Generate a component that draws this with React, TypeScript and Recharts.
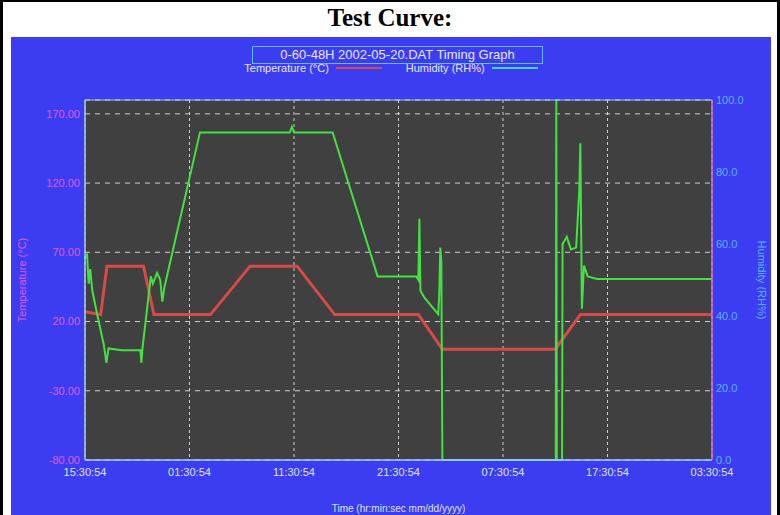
import React from 'react';
import { LineChart, Line, XAxis, YAxis, CartesianGrid } from 'recharts';

// ---- data ----
const xTicks = [0, 10, 20, 30, 40, 50, 60];
const xTickLabels = ['15:30:54', '01:30:54', '11:30:54', '21:30:54', '07:30:54', '17:30:54', '03:30:54'];
const tempTicks = [-80, -30, 20, 70, 120, 170];
const humTicks = [0, 20, 40, 60, 80, 100];
const xMinorTicks = [0,1,2,3,4,5,6,7,8,9,10,11,12,13,14,15,16,17,18,19,20,21,22,23,24,25,26,27,28,29,30,31,32,33,34,35,36,37,38,39,40,41,42,43,44,45,46,47,48,49,50,51,52,53,54,55,56,57,58,59,60];
const tempMinorTicks = [-70,-60,-50,-40,-30,-20,-10,0,10,20,30,40,50,60,70,80,90,100,110,120,130,140,150,160,170];
const humMinorTicks = [5,10,15,20,25,30,35,40,45,50,55,60,65,70,75,80,85,90,95];

const tempHours = [0, 1.5, 2.1, 5.6, 6.6, 12.0, 15.8, 20.3, 23.9, 31.9, 34.2, 45.0, 47.4, 60];
const tempValues = [27, 25, 60, 60, 25, 25, 60, 60, 25, 25, 0, 0, 25, 25];

const humHours = [0.0, 0.2, 0.35, 0.5, 0.7, 1.2, 1.8, 2.05, 2.25, 3.5, 5.3, 5.4, 5.5, 6.3, 6.5, 6.9, 7.2, 7.4, 7.6, 11.0, 14.0, 19.6, 19.8, 20.0, 23.7, 28.0, 31.7, 31.9, 32.0, 32.1, 32.5, 33.8, 33.9, 34.0, 34.1, 34.2, 45.05, 45.1, 45.15, 45.65, 45.7, 46.1, 46.5, 47.0, 47.3, 47.4, 47.55, 47.75, 48.1, 49.0, 60];
const humValues = [56, 57, 49, 53, 47, 40, 32, 27, 31, 30.5, 30.5, 27, 31, 51, 49, 52, 50, 44, 48, 91, 91, 91, 92.5, 91, 91, 51, 51, 50, 67, 47, 45, 40.5, 46, 59, 55, 0, 0, 100, 0, 0, 60, 62, 58.5, 59, 75, 88, 42, 54, 51, 50.3, 50.3];

const tempData = tempHours.map((h, i) => ({ h, t: tempValues[i] }));
const humData = humHours.map((h, i) => ({ h, rh: humValues[i] }));

const FONT = '"Liberation Sans", Arial, sans-serif';
const BLUE = '#3c3cf0';
const MAGENTA = '#e058e0';
const LIGHTBLUE = '#58b4ff';

const NoLabel = () => <g />;

const LeftTitle = (props: any) => {
  const vb = props.viewBox || { x: 0, y: 0, width: 0, height: 0 };
  const x = vb.x - 3;
  const y = vb.y + vb.height / 2;
  return (
    <text x={x} y={y} transform={`rotate(-90, ${x}, ${y})`} textAnchor="middle" dominantBaseline="central" fill={MAGENTA} fontSize={11} fontFamily={FONT}>
      Temperature (°C)
    </text>
  );
};

const RightTitle = (props: any) => {
  const vb = props.viewBox || { x: 0, y: 0, width: 0, height: 0 };
  const x = vb.x + 50;
  const y = vb.y + vb.height / 2;
  return (
    <text x={x} y={y} transform={`rotate(90, ${x}, ${y})`} textAnchor="middle" dominantBaseline="central" fill={LIGHTBLUE} fontSize={11} fontFamily={FONT}>
      Humidity (RH%)
    </text>
  );
};

export default function App() {
  return (
    <div style={{ position: 'fixed', left: 0, top: 0, width: 780, height: 515, background: '#fff', overflow: 'hidden' }}>
      <div style={{ position: 'absolute', left: 0, top: 0, width: 780, height: 515, boxSizing: 'border-box', borderLeft: '3px solid #000', borderTop: '2px solid #000', borderRight: '3px solid #000' }} />
      <div style={{ position: 'absolute', left: 0, top: 3, width: 780, textAlign: 'center', fontFamily: '"Liberation Serif", "Times New Roman", serif', fontWeight: 'bold', fontSize: 25, lineHeight: '30px', color: '#000' }}>
        Test Curve:
      </div>
      <div style={{ position: 'absolute', left: 11, top: 37, width: 760, height: 478, background: BLUE }}>
        <div style={{ position: 'absolute', left: 241, top: 9, width: 291, height: 18, boxSizing: 'border-box', border: '1px solid #6ab8ff', color: '#e6e8ff', fontFamily: FONT, fontSize: 13, lineHeight: '16px', textAlign: 'center', whiteSpace: 'nowrap' }}>
          0-60-48H 2002-05-20.DAT Timing Graph
        </div>
        <div style={{ position: 'absolute', left: 0, top: 24, width: 760, height: 14, display: 'flex', justifyContent: 'center', alignItems: 'center', fontFamily: FONT, fontSize: 11, color: '#e6e8ff', whiteSpace: 'nowrap' }}>
          <span>Temperature (°C)</span>
          <span style={{ display: 'inline-block', width: 46, height: 2, background: '#e04848', margin: '0 24px 0 7px' }} />
          <span>Humidity (RH%)</span>
          <span style={{ display: 'inline-block', width: 46, height: 2, background: '#40d8c8', marginLeft: 7 }} />
        </div>
        <LineChart width={760} height={478} margin={{ top: 63, right: 9, bottom: 3, left: 14 }}>
          <CartesianGrid xAxisId="x" yAxisId="t" fill="#404040" vertical={false} horizontal={true} stroke="#e8e8e8" strokeDasharray="5 5" strokeOpacity={0.85} />
          <CartesianGrid xAxisId="x" yAxisId="t" vertical={true} horizontal={false} stroke="#e8e8e8" strokeDasharray="3 3" strokeOpacity={0.85} />
          <XAxis xAxisId="xminor" orientation="bottom" type="number" dataKey="h" domain={[0, 60]} ticks={xMinorTicks} interval={0} mirror height={1} tick={NoLabel} axisLine={false} tickSize={4} tickLine={{ stroke: '#dddddd' }} />
          <XAxis xAxisId="xtop" orientation="top" type="number" dataKey="h" domain={[0, 60]} ticks={xMinorTicks} interval={0} mirror height={1} tick={NoLabel} axisLine={{ stroke: '#9cc8ff' }} tickSize={4} tickLine={{ stroke: '#dddddd' }} />
          <XAxis
            xAxisId="x"
            type="number"
            dataKey="h"
            domain={[0, 60]}
            ticks={xTicks}
            interval={0}
            height={52}
            tickLine={false}
            tickSize={0}
            tickMargin={8}
            axisLine={{ stroke: '#9cc8ff', strokeWidth: 1.5 }}
            tick={{ fill: '#dde3ff', fontSize: 11, fontFamily: FONT }}
            tickFormatter={(v: number) => xTickLabels[xTicks.indexOf(v)] ?? ''}
            label={{ value: 'Time (hr:min:sec mm/dd/yyyy)', position: 'insideBottom', offset: 0, fill: '#dde3ff', fontSize: 10, fontFamily: FONT }}
          />
          <YAxis yAxisId="tminor" orientation="left" domain={[-80, 180]} ticks={tempMinorTicks} interval={0} mirror width={1} tick={NoLabel} axisLine={false} tickSize={4} tickLine={{ stroke: '#dddddd' }} />
          <YAxis yAxisId="hminor" orientation="right" domain={[0, 100]} ticks={humMinorTicks} interval={0} mirror width={1} tick={NoLabel} axisLine={false} tickSize={4} tickLine={{ stroke: '#dddddd' }} />
          <YAxis
            yAxisId="t"
            orientation="left"
            domain={[-80, 180]}
            ticks={tempTicks}
            interval={0}
            width={60}
            tickLine={false}
            tickSize={3}
            tickMargin={2}
            axisLine={{ stroke: '#9cc8ff', strokeWidth: 1.5 }}
            tick={{ fill: MAGENTA, fontSize: 11, fontFamily: FONT }}
            tickFormatter={(v: number) => v.toFixed(2)}
            label={{ content: LeftTitle }}
          />
          <YAxis
            yAxisId="h"
            orientation="right"
            domain={[0, 100]}
            ticks={humTicks}
            interval={0}
            width={50}
            tickLine={false}
            tickSize={2}
            tickMargin={2}
            axisLine={{ stroke: '#d070d0', strokeWidth: 1.5 }}
            tick={{ fill: LIGHTBLUE, fontSize: 11, fontFamily: FONT }}
            tickFormatter={(v: number) => v.toFixed(1)}
            label={{ content: RightTitle }}
          />
          <Line xAxisId="x" yAxisId="t" data={tempData} dataKey="t" type="linear" stroke="#d84a4a" strokeWidth={3} dot={false} isAnimationActive={false} />
          <Line xAxisId="x" yAxisId="h" data={humData} dataKey="rh" type="linear" stroke="#44e044" strokeWidth={2} dot={false} isAnimationActive={false} />
        </LineChart>
      </div>
    </div>
  );
}
